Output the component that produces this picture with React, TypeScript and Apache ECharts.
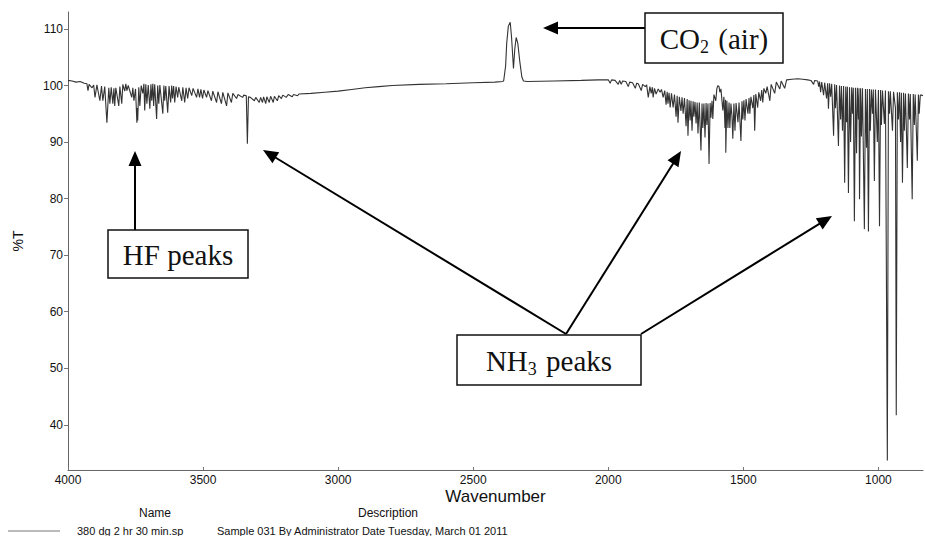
import React, { useEffect, useRef } from "react";
import * as echarts from "echarts";

// ---- data: [wavenumber (cm-1), %T] ----
const hfRegion: [number, number][] = [
  [4000, 100.9], [3985, 100.8], [3970, 100.6], [3955, 100.7], [3940, 100.4], [3930, 100.3],
  [3926, 99.1], [3922, 100.2], [3911, 99.6], [3905, 100.1], [3900, 97.9], [3893, 100.1],
  [3882, 97.3], [3876, 99.9], [3871, 97.3], [3864, 99.8], [3856, 93.4], [3849, 99.6],
  [3845, 96.8], [3840, 99.7], [3834, 96.8], [3830, 99.5], [3827, 96.4], [3823, 99.6],
  [3812, 96.4], [3808, 99.8], [3801, 96.8], [3797, 100.2], [3790, 99.0], [3786, 100.3],
  [3782, 99.1], [3777, 100.0], [3764, 97.9], [3760, 99.6], [3756, 97.3], [3750, 99.4],
  [3745, 93.4], [3743, 96.0], [3742, 93.8], [3738, 99.7], [3734, 96.4], [3729, 100.0],
  [3723, 98.6], [3719, 100.3], [3716, 95.6], [3712, 100.2], [3708, 96.8], [3703, 100.1],
  [3697, 95.9], [3693, 100.2], [3690, 97.3], [3686, 100.3], [3683, 96.4], [3679, 100.2],
  [3672, 94.1], [3668, 100.0], [3664, 96.8], [3660, 100.1], [3649, 95.0], [3645, 100.0],
  [3642, 97.3], [3638, 99.9], [3631, 95.2], [3626, 99.9], [3620, 97.0], [3616, 100.0],
  [3613, 97.7], [3609, 99.9], [3605, 97.0], [3600, 99.8], [3594, 97.9], [3590, 99.7],
  [3579, 97.3], [3575, 99.7], [3568, 97.0], [3563, 99.6], [3557, 97.7], [3552, 99.6],
  [3542, 98.2], [3537, 99.5], [3524, 97.9], [3519, 99.4], [3513, 97.9], [3508, 99.3],
  [3502, 97.7], [3497, 99.2], [3487, 97.9], [3482, 99.1], [3469, 97.3], [3464, 99.0],
  [3450, 97.0], [3445, 98.9], [3432, 96.8], [3427, 98.8], [3413, 96.4], [3408, 98.7],
  [3395, 97.0], [3390, 98.6], [3376, 97.7], [3371, 98.4], [3354, 97.9], [3349, 98.3],
  [3340, 98.2],
];

const nh3StretchRegion: [number, number][] = [
  [3336, 89.7], [3332, 98.0], [3325, 97.9], [3310, 97.3], [3305, 97.9], [3292, 97.0],
  [3287, 97.9], [3280, 97.0], [3276, 98.0], [3268, 96.8], [3264, 98.0], [3255, 97.0],
  [3250, 98.1], [3240, 97.0], [3236, 98.1], [3225, 97.3], [3220, 98.2], [3210, 97.7],
  [3205, 98.3], [3192, 97.9], [3185, 98.4], [3170, 98.0], [3165, 98.4], [3150, 98.2],
  [3145, 98.5],
];

const baselineMid: [number, number][] = [
  [3100, 98.6], [3050, 98.8], [3000, 99.0], [2950, 99.3], [2900, 99.6],
  [2850, 99.8], [2800, 100.0], [2700, 100.2], [2600, 100.3], [2500, 100.5], [2420, 100.6],
  [2390, 100.7],
];

const co2Region: [number, number][] = [
  [2387, 100.9], [2380, 103.5], [2376, 107.5], [2370, 110.5], [2363, 111.2], [2358, 108.5],
  [2351, 103.0], [2346, 106.5], [2341, 108.5], [2335, 107.5], [2328, 104.4], [2320, 101.5],
  [2314, 100.8], [2300, 100.7], [2200, 100.8], [2100, 100.9], [2037, 101.0],
];

const nh3BendRegion: [number, number][] = [
  [2000, 101.0], [1993, 100.4], [1988, 101.0], [1975, 100.9], [1963, 100.2], [1958, 100.9],
  [1952, 100.2], [1947, 100.8], [1935, 100.7], [1926, 99.8], [1921, 100.6], [1910, 100.5],
  [1900, 99.5], [1895, 100.4], [1889, 100.3], [1878, 99.1], [1873, 100.2], [1863, 99.8],
  [1858, 100.1], [1852, 97.9], [1846, 99.8], [1841, 98.6], [1837, 99.7], [1834, 97.9],
  [1829, 99.5], [1823, 98.5], [1815, 99.4], [1808, 98.8], [1803, 99.3], [1797, 97.9],
  [1791, 99.1], [1786, 96.6], [1782, 98.9], [1779, 96.8], [1775, 98.7], [1771, 96.1],
  [1766, 98.6], [1760, 96.1], [1755, 98.4], [1749, 94.5], [1745, 98.2], [1742, 93.4],
  [1737, 98.0], [1731, 95.5], [1727, 97.9], [1723, 95.0], [1718, 97.8], [1712, 92.8],
  [1708, 97.6], [1705, 91.1], [1701, 97.4], [1697, 93.8], [1694, 97.3], [1690, 92.0],
  [1686, 97.2], [1683, 94.5], [1679, 97.1], [1675, 93.3], [1671, 97.0], [1668, 91.5],
  [1663, 97.0], [1657, 88.5], [1653, 96.8], [1650, 92.5], [1646, 96.8], [1642, 90.8],
  [1638, 96.9], [1635, 93.0], [1631, 96.8], [1627, 86.1], [1623, 96.9], [1620, 94.3],
  [1616, 97.3], [1613, 94.1], [1609, 98.4], [1602, 97.3], [1598, 99.5], [1594, 100.0],
  [1590, 99.8], [1587, 98.8], [1583, 99.4], [1576, 95.6], [1572, 98.0], [1568, 92.5],
  [1566, 97.5], [1565, 88.1], [1561, 97.3], [1557, 92.5], [1553, 97.0], [1550, 92.5],
  [1546, 96.8], [1542, 94.5], [1539, 90.6], [1535, 96.8], [1531, 92.0], [1527, 96.9],
  [1520, 93.5], [1516, 97.0], [1509, 90.2], [1505, 97.2], [1502, 94.0], [1498, 97.4],
  [1494, 93.8], [1490, 97.6], [1483, 95.0], [1479, 97.8], [1476, 95.0], [1472, 98.0],
  [1465, 96.0], [1461, 98.3], [1458, 92.0], [1454, 98.5], [1447, 96.1], [1443, 98.8],
  [1436, 97.3], [1432, 99.2], [1428, 97.0], [1424, 99.5], [1417, 98.6], [1412, 99.8],
  [1402, 97.3], [1397, 100.2], [1384, 98.6], [1378, 100.6], [1365, 99.4], [1360, 100.8],
  [1347, 99.5], [1340, 101.0], [1320, 101.1], [1299, 101.2], [1280, 101.1], [1262, 101.0],
  [1250, 100.9], [1240, 100.2], [1236, 100.9], [1225, 100.8],
];

const nh3WagRegion: [number, number][] = [
  [1221, 99.8], [1218, 100.7], [1214, 98.8], [1210, 100.6], [1203, 98.3], [1199, 100.5],
  [1192, 97.7], [1188, 100.4], [1185, 95.9], [1181, 100.4], [1177, 98.0], [1173, 100.3],
  [1166, 91.1], [1162, 100.2], [1159, 96.0], [1155, 100.1], [1148, 89.3], [1144, 100.0],
  [1140, 94.0], [1137, 99.9], [1133, 92.0], [1129, 99.9], [1125, 82.8], [1121, 99.8],
  [1118, 93.5], [1115, 99.8], [1111, 81.0], [1107, 99.7], [1103, 90.0], [1099, 99.7],
  [1096, 95.0], [1093, 99.6], [1089, 76.0], [1085, 99.6], [1081, 88.0], [1078, 99.6],
  [1074, 94.0], [1072, 99.5], [1070, 79.9], [1066, 99.5], [1063, 91.0], [1059, 99.5],
  [1052, 74.6], [1048, 99.4], [1044, 89.0], [1041, 99.4], [1037, 74.2], [1033, 99.4],
  [1030, 92.0], [1026, 99.3], [1022, 95.0], [1019, 99.3], [1015, 83.1], [1011, 99.3],
  [1004, 90.0], [1000, 99.2], [996, 75.1], [992, 99.2], [989, 93.0], [985, 99.1],
  [978, 93.2], [974, 99.1], [967, 33.7], [963, 99.0], [959, 95.0], [956, 99.0],
  [948, 92.0], [944, 98.9], [937, 96.0], [934, 41.7], [930, 98.8], [926, 94.0],
  [922, 98.8], [918, 90.0], [915, 98.7], [911, 82.8], [907, 98.7], [904, 92.0],
  [900, 98.6], [893, 85.4], [889, 98.6], [885, 94.0], [882, 98.5], [875, 79.9],
  [871, 98.5], [867, 93.0], [864, 98.4], [856, 86.7], [852, 98.4], [849, 95.0],
  [845, 98.3], [840, 98.3], [835, 98.2],
];

const xTicks = [4000, 3500, 3000, 2500, 2000, 1500, 1000];
const yTicks = [40, 50, 60, 70, 80, 90, 100, 110];

const legendName = "380 dg 2 hr 30 min.sp";
const legendDescription = "Sample 031 By Administrator Date Tuesday, March 01 2011";

const SANS = "'Liberation Sans', Arial, sans-serif";
const SERIF = "'Liberation Serif', 'Times New Roman', serif";

function arrow(x1: number, y1: number, x2: number, y2: number) {
  // tail (x1,y1) -> tip (x2,y2)
  const len = Math.hypot(x2 - x1, y2 - y1);
  const ux = (x2 - x1) / len;
  const uy = (y2 - y1) / len;
  const headL = 15;
  const headW = 6.5;
  const bx = x2 - ux * headL;
  const by = y2 - uy * headL;
  const px = -uy;
  const py = ux;
  return {
    type: "group",
    children: [
      {
        type: "line",
        shape: { x1, y1, x2: bx + ux * 2, y2: by + uy * 2 },
        style: { stroke: "#000", lineWidth: 2 },
      },
      {
        type: "polygon",
        shape: {
          points: [
            [x2, y2],
            [bx + px * headW, by + py * headW],
            [bx - px * headW, by - py * headW],
          ],
        },
        style: { fill: "#000" },
      },
    ],
  };
}

function labelBox(x: number, y: number, w: number, h: number, text: string) {
  return {
    type: "group",
    children: [
      {
        type: "rect",
        shape: { x, y, width: w, height: h },
        style: { fill: "#fff", stroke: "#111", lineWidth: 1.5 },
      },
      {
        type: "text",
        x: x + w / 2,
        y: y + h / 2 + 1,
        style: {
          text,
          align: "center",
          verticalAlign: "middle",
          rich: {
            n: { fontFamily: SERIF, fontSize: 29, lineHeight: 34, fill: "#111" },
            s: {
              fontFamily: SERIF,
              fontSize: 18,
              lineHeight: 18,
              verticalAlign: "bottom",
              fill: "#111",
              padding: [0, 2, 0, 0],
            },
          },
        },
      },
    ],
  };
}

export default function App() {
  const ref = useRef<HTMLDivElement>(null);

  useEffect(() => {
    if (!ref.current) return;
    const chart = echarts.init(ref.current, null, { renderer: "svg" });
    const spectrum = [
      ...hfRegion,
      ...nh3StretchRegion,
      ...baselineMid,
      ...co2Region,
      ...nh3BendRegion,
      ...nh3WagRegion,
    ];
    chart.setOption({
      animation: false,
      backgroundColor: "#fff",
      grid: {
        left: 68,
        right: 2,
        top: 12,
        bottom: 66,
        containLabel: false,
        outerBoundsMode: "none",
      },
      xAxis: {
        type: "value",
        inverse: true,
        min: 835,
        max: 4000,
        name: "Wavenumber",
        nameLocation: "middle",
        nameGap: 17,
        nameMoveOverlap: false,
        nameTextStyle: { fontFamily: SANS, fontSize: 17, lineHeight: 18, color: "#111" },
        axisLine: { show: true, onZero: false, lineStyle: { color: "#666", width: 1 } },
        axisTick: { show: true, inside: true, length: 3, customValues: xTicks, lineStyle: { color: "#777" } },
        axisLabel: {
          customValues: xTicks,
          formatter: (v: number) => String(v),
          fontFamily: SANS,
          fontSize: 12,
          lineHeight: 12,
          color: "#111",
          margin: 4,
        },
        splitLine: { show: false },
      },
      yAxis: {
        type: "value",
        min: 32,
        max: 113,
        name: "%T",
        nameLocation: "middle",
        nameGap: 43,
        nameRotate: 90,
        nameMoveOverlap: false,
        nameTextStyle: { fontFamily: SANS, fontSize: 14, color: "#111" },
        axisLine: { show: true, onZero: false, lineStyle: { color: "#666", width: 1 } },
        axisTick: { show: true, length: 4, customValues: yTicks, lineStyle: { color: "#777" } },
        axisLabel: {
          customValues: yTicks,
          formatter: (v: number) => String(v),
          fontFamily: SANS,
          fontSize: 12,
          color: "#111",
          margin: 5,
        },
        splitLine: { show: false },
      },
      series: [
        {
          type: "line",
          data: spectrum,
          showSymbol: false,
          symbol: "none",
          lineStyle: { color: "#333", width: 1.1 },
          silent: true,
        },
      ],
      graphic: [
        arrow(645, 28, 543, 28),
        labelBox(645, 13, 138, 50, "{n|CO}{s|2}{n| (air)}"),
        arrow(135, 231, 135, 151),
        labelBox(108, 230, 140, 48, "{n|HF peaks}"),
        arrow(566, 334, 263, 150),
        arrow(566, 334, 681, 151),
        arrow(641, 334, 832, 216),
        labelBox(457, 335, 184, 50, "{n|NH}{s|3}{n| peaks}"),
        {
          type: "text",
          x: 155,
          y: 513,
          style: { text: "Name", fontFamily: SANS, fontSize: 12, fill: "#111", align: "center", verticalAlign: "middle" },
        },
        {
          type: "text",
          x: 388,
          y: 513,
          style: { text: "Description", fontFamily: SANS, fontSize: 12, fill: "#111", align: "center", verticalAlign: "middle" },
        },
        {
          type: "line",
          shape: { x1: 8, y1: 531, x2: 60, y2: 531 },
          style: { stroke: "#777", lineWidth: 1 },
        },
        {
          type: "text",
          x: 77,
          y: 531,
          style: { text: legendName, fontFamily: SANS, fontSize: 11, fill: "#111", align: "left", verticalAlign: "middle" },
        },
        {
          type: "text",
          x: 217,
          y: 531,
          style: { text: legendDescription, fontFamily: SANS, fontSize: 11, fill: "#111", align: "left", verticalAlign: "middle" },
        },
      ],
    });
    return () => chart.dispose();
  }, []);

  return (
    <div
      ref={ref}
      style={{ position: "fixed", left: 0, top: 0, width: 925, height: 536, background: "#fff" }}
    />
  );
}
